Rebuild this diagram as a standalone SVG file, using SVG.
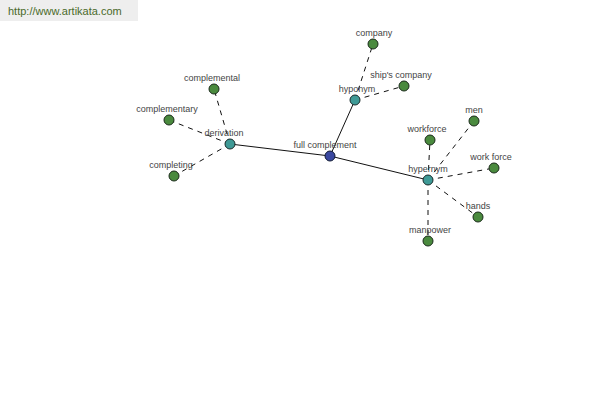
<svg xmlns="http://www.w3.org/2000/svg" width="600" height="400" viewBox="0 0 600 400">
<style>
.lbl{font-family:"Liberation Sans",Arial,sans-serif;font-size:9px;fill:#444;text-anchor:middle}
.solid{stroke:#111;stroke-width:1;fill:none}
.dash{stroke:#111;stroke-width:1;fill:none;stroke-dasharray:5,5}
.leaf{fill:#4a8a3e;stroke:#1a2a1a;stroke-width:1}
.mid{fill:#3f9a96;stroke:#1a2a2a;stroke-width:1}
.root{fill:#3a48a0;stroke:#111a33;stroke-width:1}
</style>
<rect x="0" y="0" width="138" height="21" fill="#eeeeee"/>
<text x="8" y="15" font-family="'Liberation Sans',Arial,sans-serif" font-size="11" fill="#4a6a2a">http://www.artikata.com</text>
<g id="connectors">
<line class="solid" x1="330" y1="156" x2="230" y2="144"/>
<line class="solid" x1="330" y1="156" x2="355" y2="100"/>
<line class="solid" x1="330" y1="156" x2="428" y2="180"/>
<line class="dash" x1="230" y1="144" x2="214" y2="89"/>
<line class="dash" x1="230" y1="144" x2="169" y2="120"/>
<line class="dash" x1="230" y1="144" x2="174" y2="176"/>
<line class="dash" x1="355" y1="100" x2="373" y2="44"/>
<line class="dash" x1="355" y1="100" x2="404" y2="86"/>
<line class="dash" x1="428" y1="180" x2="430" y2="140"/>
<line class="dash" x1="428" y1="180" x2="474" y2="121"/>
<line class="dash" x1="428" y1="180" x2="494" y2="168"/>
<line class="dash" x1="428" y1="180" x2="478" y2="217"/>
<line class="dash" x1="428" y1="180" x2="428" y2="241"/>
</g>
<g id="n-full-complement"><circle class="root" cx="330" cy="156" r="5"/><text class="lbl" x="325" y="148">full complement</text></g>
<g id="n-derivation"><circle class="mid" cx="230" cy="144" r="5"/><text class="lbl" x="224" y="136">derivation</text></g>
<g id="n-hyponym"><circle class="mid" cx="355" cy="100" r="5"/><text class="lbl" x="357" y="92">hyponym</text></g>
<g id="n-hypernym"><circle class="mid" cx="428" cy="180" r="5"/><text class="lbl" x="428" y="172">hypernym</text></g>
<g id="n-complemental"><circle class="leaf" cx="214" cy="89" r="5"/><text class="lbl" x="212" y="81">complemental</text></g>
<g id="n-complementary"><circle class="leaf" cx="169" cy="120" r="5"/><text class="lbl" x="167" y="112">complementary</text></g>
<g id="n-completing"><circle class="leaf" cx="174" cy="176" r="5"/><text class="lbl" x="171" y="168">completing</text></g>
<g id="n-company"><circle class="leaf" cx="373" cy="44" r="5"/><text class="lbl" x="374" y="36">company</text></g>
<g id="n-ships-company"><circle class="leaf" cx="404" cy="86" r="5"/><text class="lbl" x="401" y="78">ship's company</text></g>
<g id="n-workforce"><circle class="leaf" cx="430" cy="140" r="5"/><text class="lbl" x="427" y="132">workforce</text></g>
<g id="n-men"><circle class="leaf" cx="474" cy="121" r="5"/><text class="lbl" x="474" y="113">men</text></g>
<g id="n-work-force"><circle class="leaf" cx="494" cy="168" r="5"/><text class="lbl" x="491" y="160">work force</text></g>
<g id="n-hands"><circle class="leaf" cx="478" cy="217" r="5"/><text class="lbl" x="478" y="209">hands</text></g>
<g id="n-manpower"><circle class="leaf" cx="428" cy="241" r="5"/><text class="lbl" x="430" y="233">manpower</text></g>
</svg>
